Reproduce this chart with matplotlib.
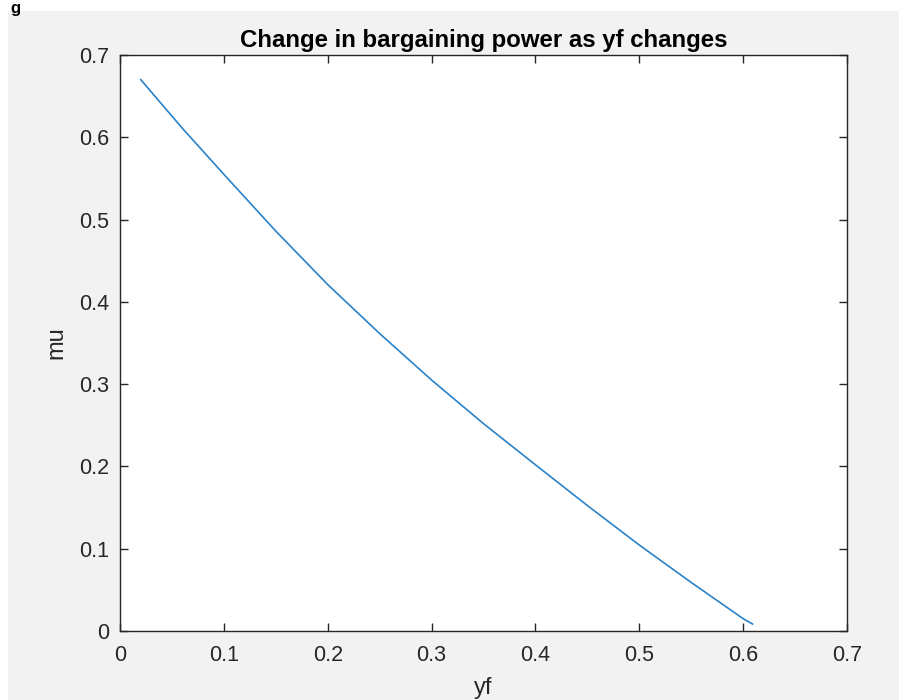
import numpy as np
import matplotlib.pyplot as plt
from matplotlib.patches import Rectangle

# ---------------------------------------------------------------------------
# Data
# ---------------------------------------------------------------------------
yf = [0.020, 0.060, 0.100, 0.150, 0.200, 0.250, 0.300, 0.350, 0.400,
      0.450, 0.500, 0.550, 0.600, 0.609]
mu = [0.670, 0.611, 0.555, 0.486, 0.421, 0.3615, 0.305, 0.252, 0.202,
      0.1525, 0.1045, 0.059, 0.015, 0.0085]

xticks = [0, 0.1, 0.2, 0.3, 0.4, 0.5, 0.6, 0.7]
yticks = [0, 0.1, 0.2, 0.3, 0.4, 0.5, 0.6, 0.7]

# ---------------------------------------------------------------------------
# Figure (MATLAB-like look)
# ---------------------------------------------------------------------------
plt.rcParams["font.family"] = ["Liberation Sans", "DejaVu Sans"]
W, H = 899, 700
fig = plt.figure(figsize=(W / 100, H / 100), dpi=100, facecolor="white")

# grey figure window area, white strip at top/left
fig.patches.append(Rectangle((8 / W, 0), 1 - 8 / W, (H - 11) / H,
                             transform=fig.transFigure, facecolor="#f2f2f2",
                             edgecolor="none", zorder=-5))
fig.text(10 / W, 1 - 0.5 / H, "g", fontsize=12, fontweight="bold",
         color="black", ha="left", va="top")

ax = fig.add_axes([120 / W, (H - 631) / H, 727 / W, 576 / H])
ax.plot(yf, mu, color="#2a82c9", linewidth=1.2)

ax.set_xlim(0, 0.7)
ax.set_ylim(0, 0.7)
ax.set_xticks(xticks)
ax.set_yticks(yticks)
ax.set_xticklabels(["0" if t == 0 else f"{t:g}" for t in xticks])
ax.set_yticklabels(["0" if t == 0 else f"{t:g}" for t in yticks])

dark = "#262626"
for s in ax.spines.values():
    s.set_color(dark)
    s.set_linewidth(1.0)
ax.tick_params(direction="in", length=6, width=1.0, color=dark,
               labelcolor=dark, labelsize=15.5, top=True, right=True)
ax.tick_params(axis="x", pad=10)
ax.tick_params(axis="y", pad=8)

ax.set_title("Change in bargaining power as yf changes", fontsize=17.3,
             fontweight="bold", color="black", pad=6)
ax.set_xlabel("yf", fontsize=17, color=dark, labelpad=8)
ax.set_ylabel("mu", fontsize=17, color=dark, labelpad=8)

plt.savefig("out.png", dpi=100, facecolor=fig.get_facecolor())
